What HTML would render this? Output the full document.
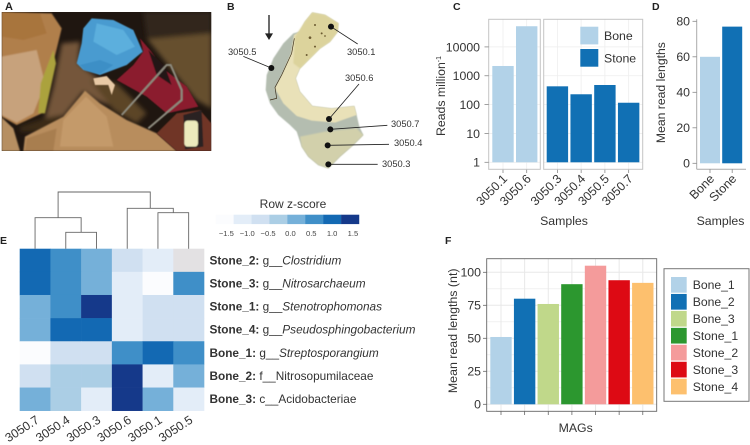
<!DOCTYPE html>
<html>
<head>
<meta charset="utf-8">
<title>Multi-panel figure</title>
<style>
html,body{margin:0;padding:0;background:#fff;}
svg{display:block;font-family:"Liberation Sans",Arial,sans-serif;}
.pl{font-size:10.5px;font-weight:bold;fill:#222;}
.s{font-size:9.3px;fill:#333;}
</style>
</head>
<body>
<svg id="fig" xmlns="http://www.w3.org/2000/svg" width="750" height="445" viewBox="0 0 750 445">
<defs>
<filter id="b0" x="-10%" y="-10%" width="120%" height="120%"><feGaussianBlur stdDeviation="1.6"/></filter>
<filter id="b1" x="-10%" y="-10%" width="120%" height="120%"><feGaussianBlur stdDeviation="7"/></filter>
<filter id="b2" x="-10%" y="-10%" width="120%" height="120%"><feGaussianBlur stdDeviation="2.5"/></filter>
<clipPath id="clipA"><rect x="5" y="36" width="629" height="417"/></clipPath>
</defs>
<rect width="750" height="445" fill="#fff"/>

<g transform="scale(0.33333)" clip-path="url(#clipA)">
  <rect x="5" y="36" width="629" height="417" fill="#1f1610"/>
  <g filter="url(#b1)">
    <polygon points="430,36 634,36 634,100 440,110" fill="#32251a"/>
    <polygon points="440,115 634,100 634,325 590,300 500,190" fill="#66502f"/>
    <polygon points="185,130 240,125 235,190 300,240 375,335 290,300 250,275 190,350 130,372 160,260" fill="#75563a"/>
    <polygon points="60,380 130,355 190,345 150,395 60,395" fill="#3a2a18"/>
    <polygon points="270,240 350,250 440,340 410,370 340,330" fill="#5c4428"/>
  </g>
  <g filter="url(#b2)">
    <polygon points="5,36 155,40 185,85 162,180 125,340 50,375 5,350" fill="#b07f4c"/>
    <polygon points="5,36 120,40 140,100 70,120 5,110" fill="#a8743c"/>
    <polygon points="5,170 110,150 135,250 100,340 50,368 5,345" fill="#c7a27c"/>
    <polygon points="160,150 168,190 135,340 115,340 122,250" fill="#aba23c"/>
    <polygon points="5,352 40,385 60,453 5,453" fill="#b68f62"/>
    <polygon points="70,453 75,410 190,350 255,272 300,310 380,360 470,400 530,453" fill="#b88d5d"/>
    <polygon points="190,360 258,290 320,350 340,440 180,440" fill="#c49a6a"/>
    <polygon points="75,453 80,415 170,385 160,453" fill="#a87e50"/>
  </g>
  <g filter="url(#b0)">
    <polygon points="420,115 450,150 495,210 560,260 595,320 500,340 440,290 350,240 400,195 430,155" fill="#8b1a2e"/>
    <polygon points="445,150 495,200 515,255 470,225" fill="#241616"/>
    <polygon points="275,55 340,60 400,90 428,155 380,195 300,225 250,210 230,190 245,130 250,85" fill="#4a9bd0"/>
    <polygon points="290,70 370,90 405,140 350,165 280,125" fill="#5cafdd"/>
    <polygon points="240,195 300,180 340,195 300,222 255,212" fill="#3d8fc6"/>
    <polyline points="365,345 500,195 512,195 545,270 545,300 445,385" fill="none" stroke="#8c8a7e" stroke-width="6"/>
    <polygon points="280,235 320,228 345,255 335,285 325,255 285,255" fill="#e8c9a5"/>
    <polygon points="470,400 530,340 600,330 634,370 634,453 530,453" fill="#6f3427"/>
    <polygon points="550,345 605,330 610,440 555,448" fill="#2c2420"/>
    <rect x="553" y="362" width="41" height="78" rx="10" fill="#eceabc"/>
  </g>
</g>
<text class="pl" x="5" y="10" style="font-size:11px">A</text>

<g transform="translate(225,0) scale(0.33333)">
  <polygon filter="url(#b0)" points="262,38 300,45 340,70 338,95 315,125 285,145 255,175 225,205 212,235 225,275 262,318 320,325 388,318 395,345 403,380 415,405 385,435 345,470 310,505 280,495 250,470 230,440 215,395 195,375 160,345 135,310 122,270 125,225 145,175 175,130 205,100 225,95 240,65" fill="#b4bdb0"/>
  <polygon filter="url(#b0)" points="262,38 300,45 340,70 338,95 315,125 285,145 255,175 225,205 212,235 225,275 262,318 320,325 388,318 395,345 330,368 260,362 215,348 175,310 150,265 175,215 198,160 207,105 225,95 240,65" fill="#e9e1b8"/>
  <polygon filter="url(#b2)" points="262,38 300,45 340,70 338,95 315,125 285,145 255,175 225,205 205,190 210,110 240,65" fill="#dcd39c"/>
  <polygon filter="url(#b2)" points="225,410 300,395 395,385 415,405 385,435 345,470 310,505 280,495 250,470 230,440" fill="#d2d0ab"/>
  <polyline points="208,115 200,160 170,225 150,262 155,295 135,300" fill="none" stroke="#3a2c18" stroke-width="2"/>
  <g fill="#6b5a30">
    <circle cx="255" cy="113" r="4"/><circle cx="290" cy="100" r="3"/><circle cx="270" cy="140" r="3"/><circle cx="245" cy="165" r="3"/><circle cx="300" cy="108" r="2.5"/><circle cx="270" cy="75" r="3"/>
  </g>
  <line x1="132" y1="45" x2="132" y2="105" stroke="#222" stroke-width="4"/>
  <polygon points="120,100 144,100 132,120" fill="#222"/>
  <g stroke="#222" stroke-width="2.5" fill="none">
    <line x1="318" y1="80" x2="398" y2="132"/>
    <line x1="139" y1="204" x2="55" y2="169"/>
    <line x1="312" y1="357" x2="402" y2="252"/>
    <line x1="316" y1="388" x2="487" y2="376"/>
    <line x1="308" y1="436" x2="492" y2="433"/>
    <line x1="310" y1="493" x2="458" y2="493"/>
  </g>
  <g fill="#111">
    <circle cx="318" cy="80" r="9"/><circle cx="139" cy="204" r="9"/><circle cx="312" cy="357" r="9"/>
    <circle cx="316" cy="388" r="9"/><circle cx="308" cy="436" r="9"/><circle cx="310" cy="493" r="9"/>
  </g>
</g>
<g>
  <text class="s" x="347" y="55">3050.1</text>
  <text class="s" x="228" y="55">3050.5</text>
  <text class="s" x="345" y="81">3050.6</text>
  <text class="s" x="391" y="127">3050.7</text>
  <text class="s" x="394" y="146">3050.4</text>
  <text class="s" x="382" y="167">3050.3</text>
</g>
<text class="pl" x="227" y="10">B</text>
<text class="pl" x="453" y="10">C</text>
<text class="pl" x="652" y="10">D</text>
<text class="pl" x="0" y="244">E</text>
<text class="pl" x="445" y="244">F</text>
</svg>

<script>
// Panel C data
const cSamplesLeft = ['3050.1', '3050.6'];
const cValuesLeft = [2180, 52000];
const cSamplesRight = ['3050.3', '3050.4', '3050.5', '3050.7'];
const cValuesRight = [430, 228, 478, 116];
const cTicks = [1, 10, 100, 1000, 10000];
// Panel D data
const dCategories = ['Bone', 'Stone'];
const dValues = [60, 77];
const dTicks = [0, 20, 40, 60, 80];
// Panel E data
const eColumns = ['3050.7', '3050.4', '3050.3', '3050.6', '3050.1', '3050.5'];
const eRowsBold = ['Stone_2:', 'Stone_3:', 'Stone_1:', 'Stone_4:', 'Bone_1:', 'Bone_2:', 'Bone_3:'];
const eRowsPrefix = ['g__', 'g__', 'g__', 'g__', 'g__', 'f__', 'c__'];
const eRowsTaxon = ['Clostridium', 'Nitrosarchaeum', 'Stenotrophomonas', 'Pseudosphingobacterium', 'Streptosporangium', 'Nitrosopumilaceae', 'Acidobacteriae'];
const eZ = [
  [1.25, 0.75, 0.25, -0.75, -1.25, null],
  [1.25, 0.75, 0.25, -1.25, -1.75, 0.75],
  [0.25, 0.75, 1.75, -1.25, -0.75, -0.75],
  [0.25, 1.25, 1.25, -1.25, -0.75, -0.75],
  [-1.75, -0.75, -0.75, 0.75, 1.25, 0.75],
  [-0.75, -0.25, -0.25, 1.75, -1.25, 0.25],
  [0.25, -0.25, -1.25, 1.75, 0.25, -1.25]
];
const eLegendTicks = [-1.5, -1.0, -0.5, 0.0, 0.5, 1.0, 1.5];
// Panel F data
const fCategories = ['Bone_1', 'Bone_2', 'Bone_3', 'Stone_1', 'Stone_2', 'Stone_3', 'Stone_4'];
const fValues = [51, 80, 76, 91, 105, 94, 92];
const fTicks = [0, 25, 50, 75, 100];

const bluesPalette = ['#fbfcfe', '#e3edf8', '#d0e0f1', '#abcee5', '#75b0d9', '#3f8fc8', '#1369b3', '#15398a'];
const fPalette = ['#b2d2e8', '#1170b4', '#c0d88a', '#2c972f', '#f49b9b', '#dd0a14', '#fdc06e'];
const BONE = '#b2d2e8', STONE = '#1170b4', TXT = '#333333';

const svg = document.getElementById('fig');
const NS = 'http://www.w3.org/2000/svg';
function mk(tag, props, parent) {
  const e = document.createElementNS(NS, tag);
  for (const k in props) e.setAttribute(k, props[k]);
  (parent || svg).appendChild(e);
  return e;
}
function label(txt, x, y, size, anchor, rot, fill) {
  const t = mk('text', {x: x, y: y, 'font-size': size, 'text-anchor': anchor || 'start', fill: fill || TXT});
  if (rot) t.setAttribute('transform', 'rotate(' + rot + ' ' + x + ' ' + y + ')');
  t.textContent = txt;
  return t;
}

/* ---------- Panel C ---------- */
const yC = v => 162.3 - 28.85 * Math.log10(v);
const bandCL = i => 492.3 + i * 23.7;
const bandCR = i => 546.7 + i * 23.75;
const C_W = 21.4;
[[488.7, 51.6], [543.7, 99]].forEach(function (p, pi) {
  const r = mk('rect', {x: p[0], y: 19.3, width: p[1], height: 150, fill: '#fff'});
  
  
  cTicks.forEach(function (t) {
    const g = mk('line', {x1: p[0], x2: p[0] + p[1], y1: yC(t), y2: yC(t), stroke: '#eeeeee', 'stroke-width': 0.8});
    
    
  });
});
function cBars(names, vals, band, color) {
  names.forEach(function (n, i) {
    const gl = mk('line', {x1: band(i) + C_W / 2, x2: band(i) + C_W / 2, y1: 19.3, y2: 169.3, stroke: '#eeeeee', 'stroke-width': 0.8});
    
    
    const b = mk('rect', {x: band(i), y: yC(vals[i]), width: C_W, height: yC(1) - yC(vals[i]), fill: color});
    
    
    const tk = mk('line', {x1: band(i) + C_W / 2, x2: band(i) + C_W / 2, y1: 169.3, y2: 173, stroke: '#888', 'stroke-width': 0.8});
    
    
    const t = label(n, band(i) + C_W / 2 + 5, 179.5, 12.4, 'end', -45);
    
    
  });
}
cBars(cSamplesLeft, cValuesLeft, bandCL, BONE);
cBars(cSamplesRight, cValuesRight, bandCR, STONE);
[[488.7, 51.6], [543.7, 99]].forEach(function (p) {
  const r = mk('rect', {x: p[0], y: 19.3, width: p[1], height: 150, fill: 'none', stroke: '#c4c4c4', 'stroke-width': 1});
  
  
});
cTicks.forEach(function (t) {
  const l = mk('line', {x1: 484.5, x2: 488.7, y1: yC(t), y2: yC(t), stroke: '#888', 'stroke-width': 0.8});
  
  
  const tx = label(String(t), 480, yC(t) + 4.4, 12.3, 'end');
  
  
});
const cYTitle = label('Reads million', 445, 96, 12.3, 'middle', -90);


const sup = mk('tspan', {dy: -4, 'font-size': 7}, cYTitle);
sup.textContent = '-1';
const cXTitle = label('Samples', 564, 225, 12.3, 'middle');


[['Bone', BONE, 26.7, 40], ['Stone', STONE, 49, 62.5]].forEach(function (d) {
  const s = mk('rect', {x: 580.3, y: d[2], width: 18, height: 17.7, fill: d[1]});
  
  
  const t = label(d[0], 604, d[3], 12.3, 'start');
  
  
});

/* ---------- Panel D ---------- */
const yD = v => 163.3 - 1.775 * v;
const bandD = i => 700 + i * 22.2;
const dAxisL = mk('line', {x1: 696.7, x2: 696.7, y1: 19.3, y2: 169.3, stroke: '#aaa', 'stroke-width': 1});


const dAxisB = mk('line', {x1: 696.7, x2: 746, y1: 169.3, y2: 169.3, stroke: '#aaa', 'stroke-width': 1});


dCategories.forEach(function (c, i) {
  const b = mk('rect', {x: bandD(i), y: yD(dValues[i]), width: 20, height: yD(0) - yD(dValues[i]), fill: i ? STONE : BONE});
  
  
  const tk = mk('line', {x1: bandD(i) + 10, x2: bandD(i) + 10, y1: 169.3, y2: 173, stroke: '#888', 'stroke-width': 0.8});
  
  
  const t = label(c, bandD(i) + 15, 179.5, 12.4, 'end', -45);
  
  
});
dTicks.forEach(function (t) {
  const l = mk('line', {x1: 692.5, x2: 696.7, y1: yD(t), y2: yD(t), stroke: '#888', 'stroke-width': 0.8});
  
  
  const tx = label(String(t), 690, yD(t) + 4.4, 12.3, 'end');
  
  
});
const dYTitle = label('Mean read lengths', 665, 92.6, 12.2, 'middle', -90);


const dXTitle = label('Samples', 720.5, 225, 12.3, 'middle');



/* ---------- Panel E ---------- */
const HM_X = 19.7, HM_Y = 248.7, HM_CW = 30.72, HM_RH = 23.14;
const colX = i => HM_X + i * HM_CW;
const rowY = i => HM_Y + i * HM_RH;
const colourFor = z => z === null ? '#e3e1e3' : bluesPalette[Math.max(0, Math.min(7, Math.floor((z + 2) / 0.5)))];
eZ.forEach(function (row, r) {
  row.forEach(function (z, c) {
    const cell = mk('rect', {x: colX(c), y: rowY(r), width: HM_CW + 0.3, height: HM_RH + 0.3, fill: colourFor(z)});
    
    
  });
  const y = rowY(r) + HM_RH / 2 + 4;
  const t = label('', 209.5, y, 11.8, 'start');
  
  
  const a = mk('tspan', {'font-weight': 'bold'}, t);
  a.textContent = eRowsBold[r] + ' ';
  const p = mk('tspan', {}, t);
  p.textContent = eRowsPrefix[r];
  const q = mk('tspan', {'font-style': r < 5 ? 'italic' : 'normal'}, t);
  q.textContent = eRowsTaxon[r];
});
eColumns.forEach(function (n, i) {
  const t = label(n, colX(i) + HM_CW / 2 + 5, 422, 12.3, 'end', -33);
  
  
});
function dendroPath(d, stroke) {
  const e = mk('path', {d: d, fill: 'none', stroke: stroke || '#666', 'stroke-width': 0.9});
  
  
}
const cc = i => colX(i) + HM_CW / 2;
const c12 = (cc(1) + cc(2)) / 2, cL = (cc(0) + c12) / 2, c45 = (cc(4) + cc(5)) / 2, cR = (cc(3) + c45) / 2;
const yTop = 192, yL = 217.7, yLL = 232.3, yRT = 208.3, yRR = 212.7;
dendroPath('M' + cc(1) + ' ' + HM_Y + 'V' + yLL + 'H' + cc(2) + 'V' + HM_Y);
dendroPath('M' + cc(0) + ' ' + HM_Y + 'V' + yL + 'H' + c12 + 'V' + yLL);
dendroPath('M' + cc(4) + ' ' + HM_Y + 'V' + yRR + 'H' + cc(5) + 'V' + HM_Y);
dendroPath('M' + cc(3) + ' ' + HM_Y + 'V' + yRT + 'H' + c45 + 'V' + yRR);
dendroPath('M' + cL + ' ' + yL + 'V' + yTop + 'H' + cR + 'V' + yRT);
// Colour key
const keyX = i => 215.7 + i * 17.92;
bluesPalette.forEach(function (c, i) {
  const s = mk('rect', {x: keyX(i), y: 214.7, width: 18.1, height: 9.4, fill: c});
  
  
});
const keyTickX = v => 290.4 + v * 41.7;
eLegendTicks.forEach(function (v) {
  const t = label((v < 0 ? '\u2212' : '') + Math.abs(v).toFixed(1), keyTickX(v) - (v < 0 ? 1.5 : 0), 236, 7.6, 'middle', 0, '#444');
  
  
});
const keyTitle = label('Row z-score', 293, 208, 12, 'middle');



/* ---------- Panel F ---------- */
const yF = v => 404.3 - 1.32 * v;
const bandF = i => 490.3 + i * 23.63;
const F_W = 21.4;
[12.5, 37.5, 62.5, 87.5, 0, 25, 50, 75, 100].forEach(function (t, i) {
  const g = mk('line', {x1: 486.7, x2: 656.7, y1: yF(t), y2: yF(t), stroke: '#e8e8e8', 'stroke-width': i < 4 ? 0.6 : 1});
  
  
});
fCategories.forEach(function (c, i) {
  const cx = bandF(i) + F_W / 2;
  const g = mk('line', {x1: cx, x2: cx, y1: 258.7, y2: 411.3, stroke: '#e8e8e8', 'stroke-width': 1});
  
  
  const b = mk('rect', {x: bandF(i), y: yF(fValues[i]), width: F_W, height: yF(0) - yF(fValues[i]), fill: fPalette[i]});
  
  
  const tk = mk('line', {x1: cx, x2: cx, y1: 411.3, y2: 415, stroke: '#666', 'stroke-width': 0.8});
  
  
  const sy = 277 + i * 16.95;
  const s = mk('rect', {x: 671, y: sy, width: 15.7, height: 15.7, fill: fPalette[i]});
  
  
  const t = label(c, 692.7, sy + 12.2, 12.2, 'start');
  
  
});
const fBorder = mk('rect', {x: 486.7, y: 258.7, width: 170, height: 152.6, fill: 'none', stroke: '#666', 'stroke-width': 0.9});


const fLegendBox = mk('rect', {x: 664, y: 268.7, width: 85, height: 132.6, fill: 'none', stroke: '#777', 'stroke-width': 1});


fTicks.forEach(function (t) {
  const l = mk('line', {x1: 483, x2: 486.7, y1: yF(t), y2: yF(t), stroke: '#666', 'stroke-width': 0.8});
  
  
  const tx = label(String(t), 481, yF(t) + 4.4, 12.3, 'end');
  
  
});
const fYTitle = label('Mean read lengths (nt)', 457, 330.8, 12.4, 'middle', -90);


const fXTitle = label('MAGs', 575.7, 432, 12.3, 'middle');


</script>
</body>
</html>
